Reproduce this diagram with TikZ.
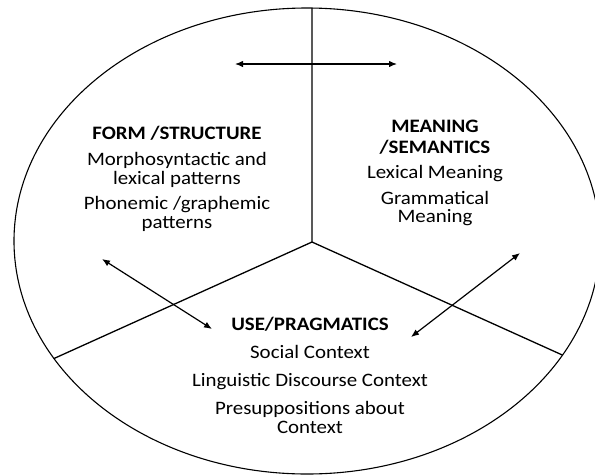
\documentclass[tikz,border=0pt]{standalone}
\usepackage{fontspec}
\setmainfont{Carlito}[FakeStretch=1.1]
\usepackage{tikz}
\usetikzlibrary{arrows,arrows.meta,positioning,intersections}
\tikzset{
  rim/.style     = {black, line width=1.1pt},
  divider/.style = {black, line width=1.3pt},
  linkedge/.style = {black, <->, >={Latex[length=8pt,width=6.5pt]}, line width=1.2pt},
  head/.style    = {font=\fontsize{19}{19}\selectfont\bfseries, inner sep=0pt, text height=13pt, text depth=4pt},
  entry/.style   = {font=\fontsize{19}{19}\selectfont, inner sep=0pt, text height=13pt, text depth=4pt},
}

\begin{document}
\begin{tikzpicture}[x=1pt,y=-1pt]
      \useasboundingbox (0,0) rectangle (595,475);
      \clip (0,0) rectangle (595,475);
      \draw[rim, name path=rim] (307,241) ellipse [x radius=293, y radius=233];

      % three parts
      \coordinate (hub) at (312,242);
      \path[name path=upray] (hub) -- (312,-20);
      \path[name path=leftray] (hub) -- (-100,428);
      \path[name path=rightray] (hub) -- (724,428);
      \path[name intersections={of=rim and upray, by=tend}];
      \path[name intersections={of=rim and leftray, by=lend}];
      \path[name intersections={of=rim and rightray, by=rend}];
      \draw[divider] (tend) -- (hub);
      \draw[divider] (lend) -- (hub) -- (rend);

      % form
      \node[head, anchor=base] (formhead) at (177,139) {FORM /STRUCTURE};
      \node[entry, below=9pt of formhead] (morph1) {Morphosyntactic and};
      \node[entry, below=2pt of morph1] (morph2) {lexical patterns};
      \node[entry, below=7pt of morph2] (phon1) {Phonemic /graphemic};
      \node[entry, below=2pt of phon1] (phon2) {patterns};

      % meaning
      \node[head, anchor=base] (meanhead1) at (435,132) {MEANING};
      \node[head, below=4pt of meanhead1] (meanhead2) {/SEMANTICS};
      \node[entry, below=8pt of meanhead2] (lexmean) {Lexical Meaning};
      \node[entry, below=8pt of lexmean] (gram1) {Grammatical};
      \node[entry, below=1pt of gram1] (gram2) {Meaning};

      % use
      \node[head, anchor=base] (usehead) at (310,330) {USE/PRAGMATICS};
      \node[entry, below=11pt of usehead] (social) {Social Context};
      \node[entry, below=11pt of social] (discourse) {Linguistic Discourse Context};
      \node[entry, below=10pt of discourse] (presup1) {Presuppositions about};
      \node[entry, below=2pt of presup1] (presup2) {Context};

      % arrows
      \coordinate (fmL) at (235,64);
      \coordinate (fmR) at (397,64);
      \coordinate (fuA) at (102,259);
      \coordinate (fuB) at (212,329);
      \coordinate (muA) at (520,253);
      \coordinate (muB) at (411,337);
      \path (fmL) edge[linkedge] (fmR);
      \path (fuA) edge[linkedge] (fuB);
      \path (muA) edge[linkedge] (muB);
\end{tikzpicture}
\end{document}
